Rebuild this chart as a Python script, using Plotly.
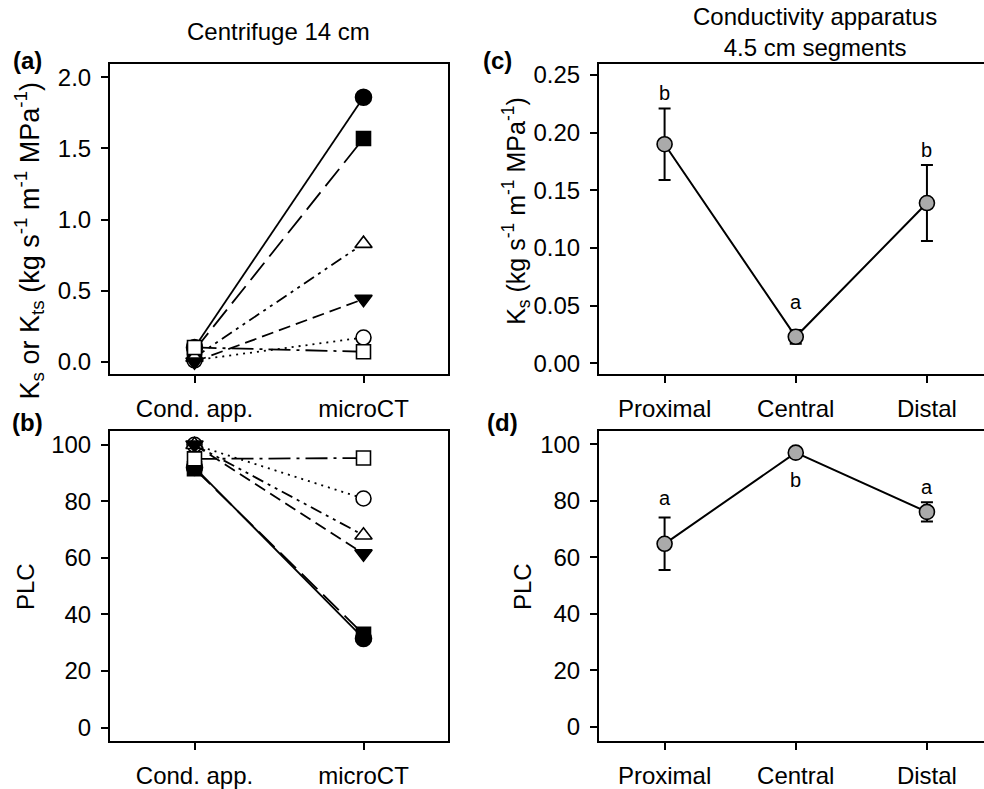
import plotly.graph_objects as go

W, H = 984, 789
FONT = "Liberation Sans, Arial, sans-serif"
FS = 24

# ---------------- data ----------------
methods = ["Cond. app.", "microCT"]
series_names = ["filled circle", "filled square", "open triangle", "down triangle", "open circle", "open square"]
ks_values = [
    [0.10, 1.86],
    [0.08, 1.57],
    [0.03, 0.83],
    [0.00, 0.44],
    [0.01, 0.17],
    [0.10, 0.07],
]
plc_values = [
    [92.0, 31.5],
    [91.5, 33.0],
    [100.0, 68.0],
    [100.0, 61.5],
    [100.0, 81.0],
    [95.0, 95.3],
]
segments = ["Proximal", "Central", "Distal"]
seg_ks = [0.190, 0.023, 0.139]
seg_ks_err = [0.031, 0.006, 0.033]
seg_ks_letters = ["b", "a", "b"]
seg_ks_letter_y = [0.234, 0.053, 0.185]
seg_plc = [64.8, 97.1, 76.1]
seg_plc_err = [9.3, 1.0, 3.4]
seg_plc_letters = ["a", "b", "a"]
seg_plc_letter_y = [80.9, 87.5, 84.9]

# ---------------- styles ----------------
styles = [
    dict(symbol="circle", fill="black", size=16, dash="solid"),
    dict(symbol="square", fill="black", size=14, dash="22px,8px"),
    dict(symbol="triangle-up", fill="white", size=15, dash="12px,5px,3px,5px,3px,5px"),
    dict(symbol="triangle-down", fill="black", size=15, dash="12px,6px"),
    dict(symbol="circle", fill="white", size=15, dash="2px,5px"),
    dict(symbol="square", fill="white", size=14, dash="22px,6px,3px,6px"),
]
draw_order = [4, 0, 1, 2, 3, 5]

def px(x):
    return x / W

def py(y):
    return 1 - y / H

fig = go.Figure()

for i in draw_order:
    st = styles[i]
    for vals, ax in ((ks_values, "1"), (plc_values, "2")):
        fig.add_trace(go.Scatter(
            x=[0, 1], y=vals[i], mode="lines+markers", name=series_names[i],
            xaxis="x" + ax, yaxis="y" + ax, showlegend=False,
            line=dict(color="black", width=1.8, dash=st["dash"]),
            marker=dict(symbol=st["symbol"], size=st["size"], color=st["fill"],
                        line=dict(color="black", width=1.6)),
        ))

seg_x = list(range(len(segments)))
fig.add_trace(go.Scatter(
    x=seg_x, y=seg_ks, mode="lines+markers", xaxis="x3", yaxis="y3", showlegend=False,
    line=dict(color="black", width=2),
    marker=dict(symbol="circle", size=15, color="#aaaaaa", line=dict(color="black", width=1.6)),
    error_y=dict(type="data", array=seg_ks_err, color="black", thickness=2, width=6),
))
fig.add_trace(go.Scatter(
    x=seg_x, y=seg_plc, mode="lines+markers", xaxis="x4", yaxis="y4", showlegend=False,
    line=dict(color="black", width=2),
    marker=dict(symbol="circle", size=15, color="#aaaaaa", line=dict(color="black", width=1.6)),
    error_y=dict(type="data", array=seg_plc_err, color="black", thickness=2, width=6),
))

axis_common = dict(
    showline=True, linecolor="black", linewidth=2, showgrid=False, zeroline=False,
    ticks="outside", ticklen=7, tickwidth=1.5, tickcolor="black",
    tickfont=dict(family=FONT, size=FS, color="black"), ticklabelstandoff=5,
)

a_x = [px(110), px(448)]
r_x = [px(599), px(984)]
top_y = [py(375), py(62)]
bot_y = [py(746), py(432)]

fig.update_layout(
    width=W, height=H, margin=dict(l=0, r=0, t=0, b=0),
    paper_bgcolor="white", plot_bgcolor="white",
    font=dict(family=FONT, size=FS, color="black"),
    xaxis1=dict(axis_common, domain=a_x, anchor="y1", range=[-0.5, 1.5], mirror=True,
                tickvals=[0, 1], ticktext=methods),
    yaxis1=dict(axis_common, domain=top_y, anchor="x1", range=[-0.088, 2.091], mirror=True,
                tickvals=[0, 0.5, 1.0, 1.5, 2.0], tickformat=".1f"),
    xaxis2=dict(axis_common, domain=a_x, anchor="y2", range=[-0.5, 1.5], mirror=True,
                tickvals=[0, 1], ticktext=methods),
    yaxis2=dict(axis_common, domain=bot_y, anchor="x2", range=[-4.9, 105.0], mirror=True,
                tickvals=[0, 20, 40, 60, 80, 100]),
    xaxis3=dict(axis_common, domain=r_x, anchor="y3", range=[-0.5, 2.435], mirror=True,
                tickvals=seg_x, ticktext=segments),
    yaxis3=dict(axis_common, domain=top_y, anchor="x3", range=[-0.0094, 0.2592],
                tickvals=[0, 0.05, 0.10, 0.15, 0.20, 0.25], tickformat=".2f"),
    xaxis4=dict(axis_common, domain=r_x, anchor="y4", range=[-0.5, 2.435], mirror=True,
                tickvals=seg_x, ticktext=segments),
    yaxis4=dict(axis_common, domain=bot_y, anchor="x4", range=[-5.2, 104.9],
                tickvals=[0, 20, 40, 60, 80, 100]),
)

ann = []
# significance letters
for i, t in enumerate(seg_ks_letters):
    ann.append(dict(x=seg_x[i], y=seg_ks_letter_y[i], xref="x3", yref="y3", text=t,
                    showarrow=False, font=dict(family=FONT, size=20, color="black")))
for i, t in enumerate(seg_plc_letters):
    ann.append(dict(x=seg_x[i], y=seg_plc_letter_y[i], xref="x4", yref="y4", text=t,
                    showarrow=False, font=dict(family=FONT, size=20, color="black")))

def paper_text(x, y, text, size=FS, angle=0, bold=False):
    if bold:
        text = "<b>" + text + "</b>"
    ann.append(dict(x=px(x), y=py(y), xref="paper", yref="paper", text=text,
                    showarrow=False, textangle=angle, xanchor="center", yanchor="middle",
                    font=dict(family=FONT, size=size, color="black")))

paper_text(278, 29, "Centrifuge 14 cm")
paper_text(815, 29, "Conductivity apparatus<br>4.5 cm segments")
paper_text(27, 58, "(a)", bold=True)
paper_text(27, 424, "(b)", bold=True)
paper_text(497, 58, "(c)", bold=True)
paper_text(502, 424, "(d)", bold=True)
paper_text(29, 240, "K<sub>s</sub> or K<sub>ts</sub> (kg s<sup>-1</sup> m<sup>-1</sup> MPa<sup>-1</sup>)", size=27, angle=-90)
paper_text(516, 210, "K<sub>s</sub> (kg s<sup>-1</sup> m<sup>-1</sup> MPa<sup>-1</sup>)", size=25, angle=-90)
paper_text(25, 590, "PLC", angle=-90)
paper_text(522, 590, "PLC", angle=-90)

fig.update_layout(annotations=ann)
fig.write_html("out.html")
